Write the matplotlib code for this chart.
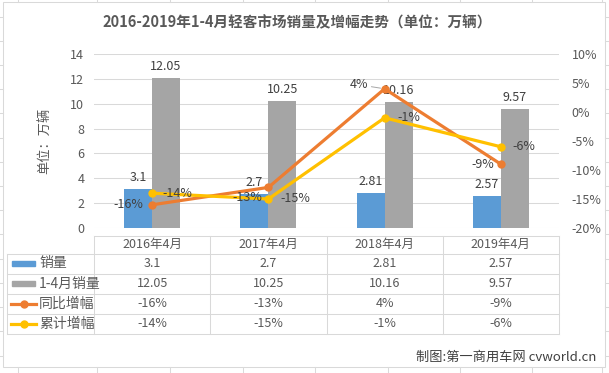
import matplotlib
matplotlib.use("Agg")
import matplotlib.pyplot as plt
from matplotlib.lines import Line2D
from matplotlib.patches import Rectangle
from matplotlib.ticker import FuncFormatter, MultipleLocator

plt.rcParams['font.family'] = ['Noto Sans CJK SC', 'DejaVu Sans']

# ---------------- data ----------------
categories = ['2016年4月', '2017年4月', '2018年4月', '2019年4月']
sales = [3.1, 2.7, 2.81, 2.57]            # 销量 (万辆)
sales_ytd = [12.05, 10.25, 10.16, 9.57]   # 1-4月销量 (万辆)
yoy = [-16, -13, 4, -9]                   # 同比增幅 (%)
ytd_growth = [-14, -15, -1, -6]           # 累计增幅 (%)
series_names = ['销量', '1-4月销量', '同比增幅', '累计增幅']
title = '2016-2019年1-4月轻客市场销量及增幅走势（单位：万辆）'
ylabel = '单位：万辆'
credit = '制图:第一商用车网 cvworld.cn'

BLUE, GRAY, ORANGE, YELLOW = '#5B9BD5', '#A5A5A5', '#ED7D31', '#FFC000'
TXT = '#595959'
GRID = '#D9D9D9'

W, H = 609, 373
fig = plt.figure(figsize=(W / 100, H / 100), dpi=100)


def fx(x):
    return x / W


def fy(y):
    return 1 - y / H


def hline(x0, x1, y, color=GRID, lw=0.75):
    fig.add_artist(Line2D([fx(x0), fx(x1)], [fy(y), fy(y)], color=color, lw=lw,
                          transform=fig.transFigure))


def vline(x, y0, y1, color=GRID, lw=0.75):
    fig.add_artist(Line2D([fx(x), fx(x)], [fy(y0), fy(y1)], color=color, lw=lw,
                          transform=fig.transFigure))


# faint spreadsheet gridlines outside the chart area
for y in [17, 41, 65, 89, 113, 138, 162, 186, 210, 234, 259, 283, 307, 331, 356]:
    hline(0, 3, y, color='#DADADA')
    hline(605, 609, y, color='#DADADA')
for x in [18, 97, 170, 243, 315, 388, 460, 532, 602]:
    vline(x, 0, 2, color='#DADADA')
    vline(x, 367, 373, color='#DADADA')

# chart border
fig.add_artist(Rectangle((fx(3), fy(367)), fx(605) - fx(3), fy(2) - fy(367),
                         fill=False, ec='#D9D9D9', lw=0.75, transform=fig.transFigure))

# ---------------- main axes ----------------
L, R, T, B = 94, 559, 54, 228
ax = fig.add_axes([fx(L), fy(B), fx(R) - fx(L), fy(T) - fy(B)])
ax2 = ax.twinx()

x = list(range(len(categories)))
bw = 0.24
bx1 = [i - bw / 2 for i in x]
bx2 = [i + bw / 2 for i in x]
ax.bar(bx1, sales, width=bw, color=BLUE, zorder=2)
ax.bar(bx2, sales_ytd, width=bw, color=GRAY, zorder=2)
ax.set_xlim(-0.5, len(categories) - 0.5)
ax.set_ylim(0, 14)
ax.yaxis.set_major_locator(MultipleLocator(2))
ax.grid(axis='y', color=GRID, lw=0.75, zorder=0)
ax.set_axisbelow(True)
ax.set_xticks([])
for s in ax.spines.values():
    s.set_visible(False)
for s in ax2.spines.values():
    s.set_visible(False)
ax.tick_params(axis='y', length=0, pad=7, labelsize=9, labelcolor=TXT)
ax.set_ylabel(ylabel, fontsize=9.5, color=TXT, labelpad=14)

for xi, v in zip(bx1, sales):
    ax.annotate(f'{v}', (xi, v), xytext=(0, 5), textcoords='offset pixels',
                ha='center', va='bottom', fontsize=9, color='#404040')
for xi, v in zip(bx2, sales_ytd):
    ax.annotate(f'{v}', (xi, v), xytext=(0, 5), textcoords='offset pixels',
                ha='center', va='bottom', fontsize=9, color='#404040')

ax2.plot(x, yoy, color=ORANGE, lw=2.3, marker='o', ms=5, zorder=3)
ax2.plot(x, ytd_growth, color=YELLOW, lw=2.3, marker='o', ms=5, zorder=3)
ax2.set_ylim(-20, 10)
ax2.yaxis.set_major_locator(MultipleLocator(5))
ax2.yaxis.set_major_formatter(FuncFormatter(lambda v, p: f'{int(round(v))}%'))
ax2.tick_params(axis='y', length=0, pad=9, labelsize=9, labelcolor=TXT)
ax2.set_xlim(-0.5, len(categories) - 0.5)

# per-point label offsets (pixels)
yoy_off = [(-9, 0), (-6, -10), (-16, 4), (-7, 0)]
ytd_off = [(10, 0), (12, 0), (13, 0), (12, 0)]
for i, (v, o) in enumerate(zip(yoy, yoy_off)):
    kw = {}
    if i == 2:
        kw = dict(arrowprops=dict(arrowstyle='-', color='#A6A6A6', lw=0.7,
                                  shrinkA=0, shrinkB=3))
    ax2.annotate(f'{v}%', (i, v), xytext=o, textcoords='offset pixels',
                 ha='right', va='center', fontsize=9, color='#404040', zorder=5, **kw)
for i, (v, o) in enumerate(zip(ytd_growth, ytd_off)):
    ax2.annotate(f'{v}%', (i, v), xytext=o, textcoords='offset pixels',
                 ha='left', va='center', fontsize=9, color='#404040', zorder=5)

# ---------------- data table ----------------
col_edges = [94, 210.25, 326.5, 442.75, 559]
row_edges = [236, 253.5, 273.5, 293.5, 313.5, 334]
hline(94, 559, row_edges[0])
for y in row_edges[1:]:
    hline(7, 559, y)
vline(7, row_edges[1], row_edges[-1])
for xe in col_edges:
    vline(xe, row_edges[0], row_edges[-1])

for j, c in enumerate(categories):
    cx = (col_edges[j] + col_edges[j + 1]) / 2
    fig.text(fx(cx), fy((row_edges[0] + row_edges[1]) / 2), c, ha='center', va='center',
             fontsize=9, color=TXT)

rows = [
    [f'{v}' for v in sales],
    [f'{v}' for v in sales_ytd],
    [f'{v}%' for v in yoy],
    [f'{v}%' for v in ytd_growth],
]
for r, vals in enumerate(rows):
    cy = (row_edges[r + 1] + row_edges[r + 2]) / 2
    for j, t in enumerate(vals):
        cx = (col_edges[j] + col_edges[j + 1]) / 2
        fig.text(fx(cx), fy(cy), t, ha='center', va='center', fontsize=9, color=TXT)

# legend keys in the table
for r, (name, col) in enumerate(zip(series_names, [BLUE, GRAY, ORANGE, YELLOW])):
    cy = (row_edges[r + 1] + row_edges[r + 2]) / 2
    if r < 2:
        fig.add_artist(Rectangle((fx(12), fy(cy + 2.5)), fx(35) - fx(12), fy(cy - 2.5) - fy(cy + 2.5),
                                 color=col, transform=fig.transFigure))
    else:
        fig.add_artist(Line2D([fx(11), fx(36)], [fy(cy), fy(cy)], color=col, lw=2.3,
                              transform=fig.transFigure))
        fig.add_artist(Line2D([fx(23.5)], [fy(cy)], color=col, marker='o', ms=5,
                              transform=fig.transFigure))
    fig.text(fx(39), fy(cy), name, ha='left', va='center', fontsize=10, color=TXT)

# title & credit
fig.text(fx(297), fy(22), title, ha='center', va='center', fontsize=10.5,
         fontweight='bold', color=TXT)
fig.text(fx(596), fy(357), credit, ha='right', va='center', fontsize=9.5, color='#404040')

fig.savefig('out.png', dpi=100)
